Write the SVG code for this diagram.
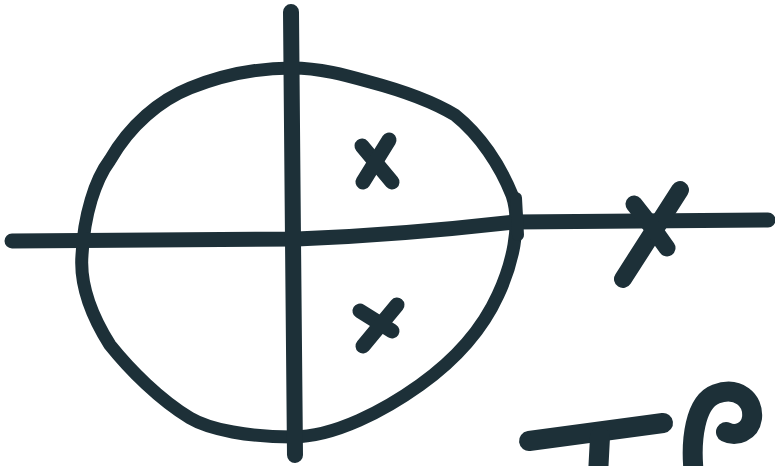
<svg xmlns="http://www.w3.org/2000/svg" width="775" height="466" viewBox="0 0 775 466">
<style>
.ink{fill:none;stroke:#1d3038;stroke-linecap:round;stroke-linejoin:round}
</style>
<rect width="775" height="466" fill="#ffffff"/>
<g id="circle">
<path class="ink" stroke-width="13" d="M292,68 C320,68 345,75 370,82 C400,90 430,100 455,115 C480,135 500,165 512,195 C522,225 512,265 498,295 C482,330 455,360 420,385 C385,410 335,437 292,437 C250,437 210,430 190,418 C160,400 130,370 110,345 C88,310 80,280 82,255 C84,215 95,180 110,160 C130,125 160,100 190,88 C220,76 255,68 292,68 Z"/>
</g>
<g id="axes">
<path class="ink" stroke-width="15" d="M12,241 L297,239 Q400,235 514,222 L768,220"/>
<path class="ink" stroke-width="16" d="M291,12 L293,240 L295,455"/>
<path class="ink" stroke-width="12" d="M516,198 L518,235"/>
</g>
<g id="pole-upper">
<path class="ink" stroke-width="15" d="M362,146 L392,182"/>
<path class="ink" stroke-width="15" d="M389,140 L363,182"/>
</g>
<g id="pole-lower">
<path class="ink" stroke-width="15" d="M360,311 L392,331"/>
<path class="ink" stroke-width="15" d="M397,305 L363,346"/>
</g>
<g id="pole-real">
<path class="ink" stroke-width="18" d="M680,190 L623,279"/>
<path class="ink" stroke-width="17" d="M634,204 Q652,226 667,248"/>
</g>
<g id="handwriting">
<path class="ink" stroke-width="20" d="M529,441 L663,423"/>
<path class="ink" stroke-width="20" d="M600,437 L598,475"/>
<path class="ink" stroke-width="20" d="M694,475 C690,440 695,402 716,394 C738,386 754,400 752,418 C750,432 736,437 726,432"/>
</g>
</svg>
